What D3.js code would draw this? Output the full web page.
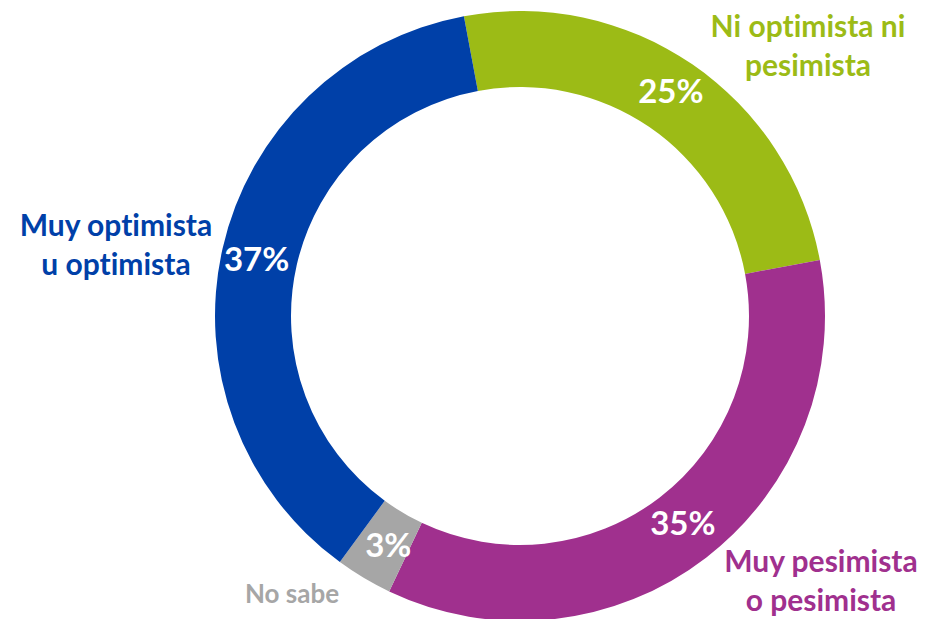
<!DOCTYPE html>
<html>
<head>
<meta charset="utf-8">
<script src="https://cdn.jsdelivr.net/npm/d3@7"></script>
<style>
  body { margin: 0; background: #fff; }
  text { font-family: Lato, "Open Sans", sans-serif; font-weight: bold; font-variant-ligatures: none; }
</style>
</head>
<body>
<div id="canvas"></div>
<script>
// data, clockwise from the green slice
const categories = ["Ni optimista ni pesimista", "Muy pesimista o pesimista", "No sabe", "Muy optimista u optimista"];
const values = [25, 35, 3, 37];
const pctLabels = ["25%", "35%", "3%", "37%"];
const colors = ["#9cbb16", "#a0308e", "#a6a6a6", "#0040a8"];
const nameLines = [["Ni optimista ni", "pesimista"], ["Muy pesimista", "o pesimista"], ["No sabe"], ["Muy optimista", "u optimista"]];

const width = 935;
const height = 619;
const cx = 520, cy = 316;
const outerR = 305, innerR = 229;
const startAngle = -10.6 * Math.PI / 180;

const svg = d3.select("#canvas").append("svg")
    .attr("width", width)
    .attr("height", height);

const g = svg.append("g").attr("transform", `translate(${cx},${cy})`);

const pie = d3.pie()
    .sort(null)
    .value(d => d)
    .startAngle(startAngle)
    .endAngle(startAngle + 2 * Math.PI);

const arcs = pie(values);

const arc = d3.arc()
    .innerRadius(innerR)
    .outerRadius(outerR);

g.selectAll("path.slice").data(arcs).enter().append("path")
    .attr("class", "slice")
    .attr("d", arc)
    .style("fill", (d, i) => colors[i]);

// percentage labels sit on the ring
const labelArc = d3.arc().innerRadius(innerR + 8).outerRadius(outerR - 8);
const pctOffsets = [[0, 0], [0, 0], [5, 4], [-3, 7]];
g.selectAll("text.pct").data(arcs).enter().append("text")
    .attr("class", "pct")
    .attr("text-anchor", "middle")
    .attr("x", (d, i) => labelArc.centroid(d)[0] + pctOffsets[i][0])
    .attr("y", (d, i) => labelArc.centroid(d)[1] + pctOffsets[i][1] + 7.5)
    .style("font-size", "33px")
    .style("fill", "#fff")
    .text((d, i) => pctLabels[i]);

// category names, placed outside the ring
const namePos = [[808, 37], [821, 572], [292, 603], [116, 236]];
const nameSize = [30, 30, 26, 30];
categories.forEach((c, i) => {
    const t = svg.append("text")
        .attr("text-anchor", "middle")
        .attr("x", namePos[i][0])
        .attr("y", namePos[i][1])
        .style("font-size", nameSize[i] + "px")
        .style("fill", colors[i]);
    nameLines[i].forEach((line, j) => {
        t.append("tspan")
            .attr("x", namePos[i][0])
            .attr("dy", j === 0 ? 0 : 39)
            .text(line);
    });
});
</script>
</body>
</html>
